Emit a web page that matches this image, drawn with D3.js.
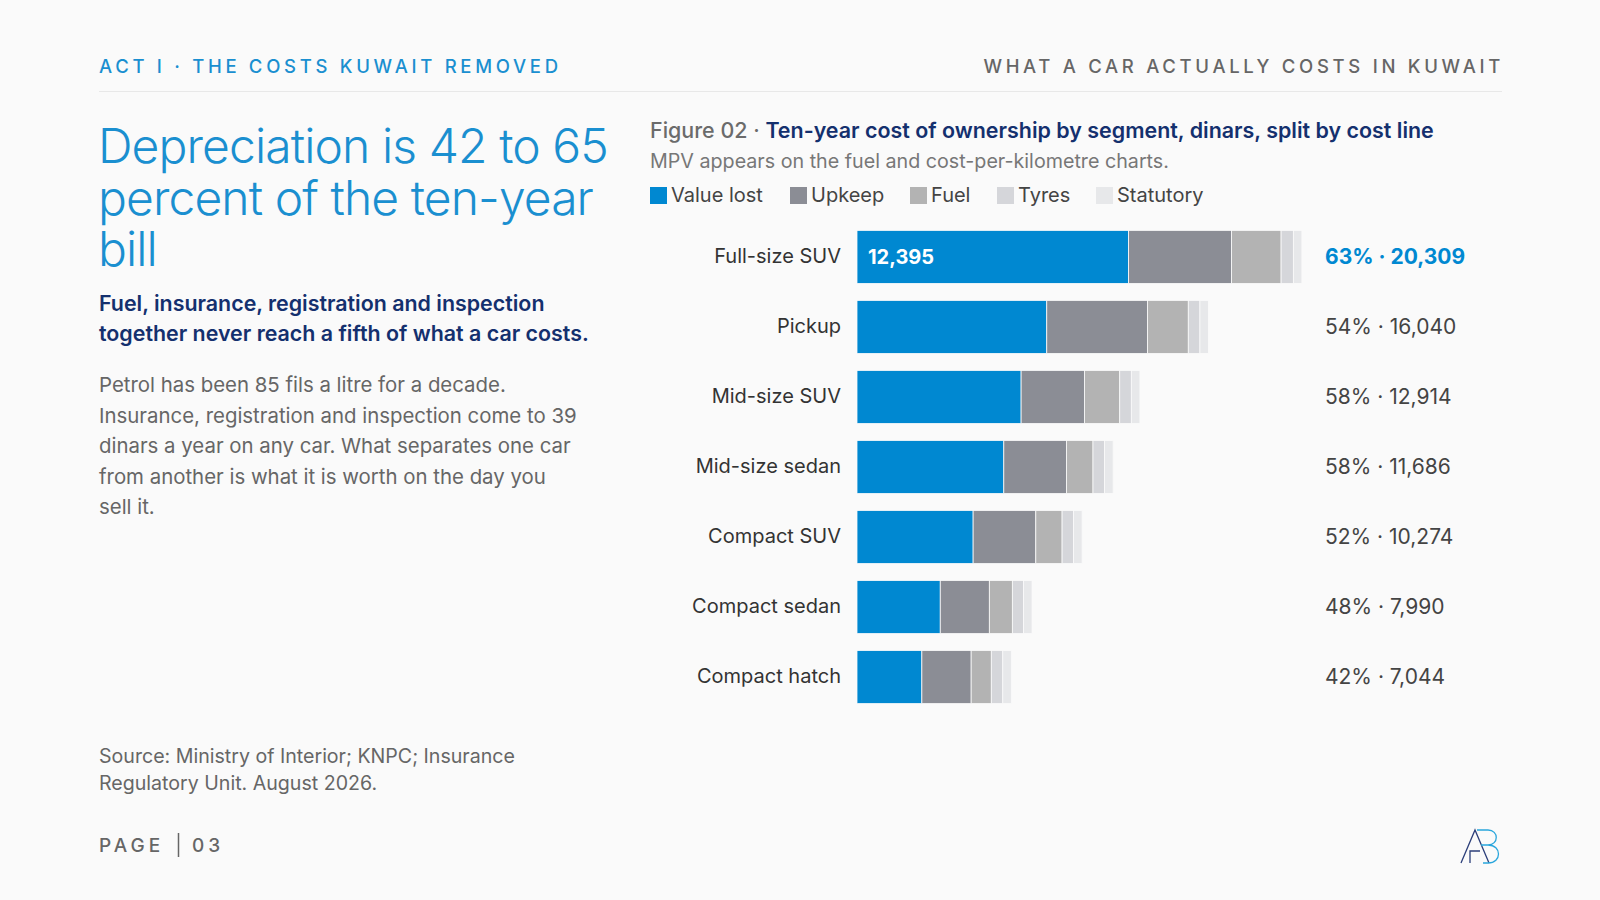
<!DOCTYPE html>
<html>
<head>
<meta charset="utf-8">
<script src="https://cdn.jsdelivr.net/npm/d3@7"></script>
<style>
  body { margin: 0; background: #fafafa; }
  svg { display: block; font-family: Inter, "Noto Sans", sans-serif; }
</style>
</head>
<body>
<div class="canvas"></div>
<script>
// data
const segments = ["Full-size SUV", "Pickup", "Mid-size SUV", "Mid-size sedan", "Compact SUV", "Compact sedan", "Compact hatch"]
const valueLost = [12395, 8660, 7490, 6700, 5300, 3800, 2960]
const upkeep = [4700, 4600, 2890, 2860, 2860, 2240, 2250]
const fuel = [2260, 1860, 1610, 1210, 1200, 1050, 920]
const tyres = [560, 530, 530, 530, 524, 510, 524]
const statutory = [390, 390, 390, 390, 390, 390, 390]
const shareLost = [63, 54, 58, 58, 52, 48, 42]
const totals = [20309, 16040, 12914, 11686, 10274, 7990, 7044]

const costLines = ["Value lost", "Upkeep", "Fuel", "Tyres", "Statutory"]
const colours = ["#0088d1", "#8b8d95", "#b3b3b3", "#d5d6da", "#e7e8ea"]

const width = 1600
const height = 900

const svg = d3.select(".canvas").append("svg")
    .attr("width", width)
    .attr("height", height)

svg.append("rect")
    .attr("width", width)
    .attr("height", height)
    .attr("fill", "#fafafa")

// header
svg.append("text")
    .attr("x", 99).attr("y", 73)
    .attr("fill", "#1a8fd0")
    .attr("font-size", 18.5)
    .attr("font-weight", 500)
    .attr("letter-spacing", 3.7)
    .text("ACT I · THE COSTS KUWAIT REMOVED")

svg.append("text")
    .attr("x", 1504).attr("y", 73)
    .attr("text-anchor", "end")
    .attr("fill", "#666")
    .attr("font-size", 18.5)
    .attr("font-weight", 500)
    .attr("letter-spacing", 3.7)
    .text("WHAT A CAR ACTUALLY COSTS IN KUWAIT")

svg.append("line")
    .attr("x1", 99).attr("x2", 1502)
    .attr("y1", 91.5).attr("y2", 91.5)
    .attr("stroke", "#e8e8e8")

// left column text
const addLines = (lines, x, y, lh, attrs) => {
    const t = svg.append("text").attr("x", x).attr("y", y)
    Object.entries(attrs).forEach(([k, v]) => t.attr(k, v))
    t.selectAll("tspan")
        .data(lines)
        .enter()
        .append("tspan")
        .attr("x", x)
        .attr("dy", (d, i) => i === 0 ? 0 : lh)
        .text(d => d)
    return t
}

addLines(["Depreciation is 42 to 65", "percent of the ten-year", "bill"], 98, 163, 51.5,
    {"fill": "#1a8fd0", "font-size": 48, "font-weight": 300, "letter-spacing": -0.9})

addLines(["Fuel, insurance, registration and inspection", "together never reach a fifth of what a car costs."], 99, 311, 30,
    {"fill": "#14306e", "font-size": 21.4, "font-weight": 600})

addLines(["Petrol has been 85 fils a litre for a decade.",
    "Insurance, registration and inspection come to 39",
    "dinars a year on any car. What separates one car",
    "from another is what it is worth on the day you",
    "sell it."], 99, 392, 30.6,
    {"fill": "#666", "font-size": 20.4, "font-weight": 400})

addLines(["Source: Ministry of Interior; KNPC; Insurance", "Regulatory Unit. August 2026."], 99, 763, 27,
    {"fill": "#666", "font-size": 19.6, "font-weight": 400})

svg.append("text")
    .attr("x", 99).attr("y", 852)
    .attr("fill", "#666")
    .attr("font-size", 19)
    .attr("font-weight", 500)
    .attr("letter-spacing", 4)
    .text("PAGE")
svg.append("line")
    .attr("x1", 178.5).attr("x2", 178.5)
    .attr("y1", 833).attr("y2", 857)
    .attr("stroke", "#666").attr("stroke-width", 1.5)
svg.append("text")
    .attr("x", 192).attr("y", 852)
    .attr("fill", "#666")
    .attr("font-size", 19)
    .attr("font-weight", 500)
    .attr("letter-spacing", 4)
    .text("03")

// logo
const logo = svg.append("g").attr("transform", "translate(1461, 829)")
    .attr("fill", "none").attr("stroke-width", 1.3)
logo.append("path")
    .attr("d", "M0,34 L14,1 L28,34 M9,34 L9,22 L19,22")
    .attr("stroke", "#2c3f7a")
logo.append("path")
    .attr("d", "M16,1 L27,1 C38,1 38,16 27,16 L20,16 M27,16 C41,16 41,34 27,34 L22,34")
    .attr("stroke", "#2aa6dc")

// figure heading
const fig = svg.append("text")
    .attr("x", 650).attr("y", 138)
    .attr("font-size", 21.45)
fig.append("tspan").attr("fill", "#6b6b6b").attr("font-weight", 500).text("Figure 02 · ")
fig.append("tspan").attr("fill", "#14306e").attr("font-weight", 600)
    .text("Ten-year cost of ownership by segment, dinars, split by cost line")

svg.append("text")
    .attr("x", 650).attr("y", 168)
    .attr("fill", "#777")
    .attr("font-size", 19.7)
    .text("MPV appears on the fuel and cost-per-kilometre charts.")

// legend
const legendX = [650, 790, 910, 997, 1096]
const legend = svg.append("g")
    .selectAll("g")
    .data(costLines)
    .enter()
    .append("g")
    .attr("transform", (d, i) => `translate(${legendX[i]}, 187)`)
legend.append("rect")
    .attr("width", 17).attr("height", 17)
    .attr("fill", (d, i) => colours[i])
legend.append("text")
    .attr("x", 21).attr("y", 15)
    .attr("fill", "#444")
    .attr("font-size", 20)
    .text(d => d)

// chart
const rows = segments.map((s, i) => ({
    name: s,
    "Value lost": valueLost[i],
    "Upkeep": upkeep[i],
    "Fuel": fuel[i],
    "Tyres": tyres[i],
    "Statutory": statutory[i],
    share: shareLost[i],
    total: totals[i]
}))

const stack = d3.stack().keys(costLines)(rows)

const x = d3.scaleLinear()
    .domain([0, d3.max(totals)])
    .range([857, 1302])

const y = d3.scaleBand()
    .domain(segments)
    .range([222, 712])
    .paddingInner(0.243)
    .paddingOuter(0.12)

const graph = svg.append("g")

graph.selectAll("g.layer")
    .data(stack)
    .enter()
    .append("g")
    .attr("class", "layer")
    .attr("fill", (d, i) => colours[i])
    .selectAll("rect")
    .data(d => d)
    .enter()
    .append("rect")
    .attr("x", d => x(d[0]))
    .attr("y", d => y(d.data.name))
    .attr("width", d => x(d[1]) - x(d[0]))
    .attr("height", y.bandwidth())
    .attr("stroke", "#fafafa")
    .attr("stroke-width", 0.8)

// category labels
const yAxis = d3.axisLeft(y).tickSize(0).tickPadding(0)
const yAxisGroup = svg.append("g")
    .attr("transform", "translate(841, 0)")
    .call(yAxis)
yAxisGroup.select(".domain").remove()
yAxisGroup.selectAll("text")
    .attr("font-family", "Inter, 'Noto Sans', sans-serif")
    .attr("font-size", 20)
    .attr("fill", "#333")

// value lost label on the leading bar
graph.append("text")
    .attr("x", x(0) + 11)
    .attr("y", y(segments[0]) + y.bandwidth() / 2)
    .attr("dy", "0.35em")
    .attr("fill", "#fff")
    .attr("font-size", 20)
    .attr("font-weight", 700)
    .text(d3.format(",")(valueLost[0]))

// share and total
graph.selectAll("text.total")
    .data(rows)
    .enter()
    .append("text")
    .attr("class", "total")
    .attr("x", 1325)
    .attr("y", d => y(d.name) + y.bandwidth() / 2)
    .attr("dy", "0.35em")
    .attr("font-size", 21)
    .attr("fill", (d, i) => i === 0 ? "#0088d1" : "#444")
    .attr("font-weight", (d, i) => i === 0 ? 700 : 400)
    .text(d => `${d.share}% · ${d3.format(",")(d.total)}`)
</script>
</body>
</html>
